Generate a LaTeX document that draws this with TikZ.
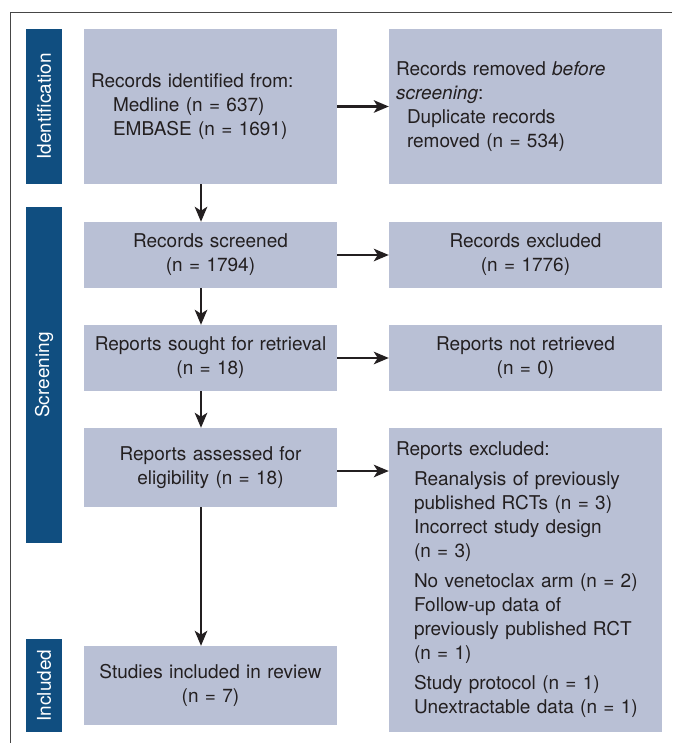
\documentclass[tikz,border=0pt]{standalone}
\usepackage{fontspec}
\setmainfont{TeX Gyre Heros}
\usetikzlibrary{arrows.meta}
\definecolor{boxfill}{RGB}{185,192,213}
\definecolor{barblue}{RGB}{16,78,128}
\definecolor{txt}{RGB}{35,31,32}
\definecolor{framec}{RGB}{70,70,70}
\begin{document}
\begin{tikzpicture}[x=1pt,y=-1pt,
 box/.style={fill=boxfill, draw=none, inner xsep=7pt, inner ysep=0pt, text=txt, font=\fontsize{19}{24}\selectfont},
 lbox/.style={box, align=left},
 cbox/.style={box, align=center},
 bar/.style={fill=barblue, text=white, rotate=90, inner sep=0pt, font=\fontsize{19}{24}\selectfont, minimum height=36pt},
 arr/.style={draw=txt, line width=2.4pt, -{Stealth[length=15pt,width=12.5pt,inset=4pt]}}]
\useasboundingbox (0,0) rectangle (672,743);
\draw[framec, line width=1pt] (672,13) -- (10,13) -- (10,743);

% phase bars
\node[bar, minimum width=155pt] (idbar) at (44,106.5) {Identification};
\node[bar, minimum width=336pt] (scbar) at (44,375) {Screening};
\node[bar, minimum width=93pt] (inbar) at (44,685.5) {Included};

% boxes
\node[lbox, text width=239pt, minimum height=155pt] (b1) at (210.5,106.5)
 {Records identified from:\\\hspace*{22pt}Medline (n = 637)\\\hspace*{22pt}EMBASE (n = 1691)};
\node[lbox, text width=259pt, minimum height=155pt] (b2) at (525.5,106.5)
 {Records removed \textit{before}\\\textit{screening}:\\\hspace*{11pt}Duplicate records\\\hspace*{11pt}removed (n = 534)};
\node[cbox, text width=239pt, minimum height=66pt] (b3) at (210.5,255)
 {Records screened\\(n = 1794)};
\node[cbox, text width=259pt, minimum height=66pt] (b4) at (525.5,255)
 {Records excluded\\(n = 1776)};
\node[cbox, inner xsep=2pt, text width=249pt, minimum height=66pt] (b5) at (210.5,358)
 {Reports sought for retrieval\\(n = 18)};
\node[cbox, text width=259pt, minimum height=66pt] (b6) at (525.5,358)
 {Reports not retrieved\\(n = 0)};
\node[cbox, text width=239pt, minimum height=79pt] (b7) at (210.5,467.5)
 {Reports assessed for\\eligibility (n = 18)};
\node[lbox, text width=259pt, minimum height=304pt] (b8) at (525.5,580)
 {Reports excluded:\\[6pt]
  \hspace*{18pt}Reanalysis of previously\\
  \hspace*{18pt}published RCTs (n = 3)\\
  \hspace*{18pt}Incorrect study design\\
  \hspace*{18pt}(n = 3)\\[6pt]
  \hspace*{18pt}No venetoclax arm (n = 2)\\
  \hspace*{18pt}Follow-up data of\\
  \hspace*{18pt}previously published RCT\\
  \hspace*{18pt}(n = 1)\\[6pt]
  \hspace*{18pt}Study protocol (n = 1)\\
  \hspace*{18pt}Unextractable data (n = 1)};
\node[cbox, text width=239pt, minimum height=79pt] (b9) at (210.5,685.5)
 {Studies included in review\\(n = 7)};

% connectors
\draw[arr] ([xshift=-9.5pt]b1.south) -- ([xshift=-9.5pt]b3.north);
\draw[arr] ([xshift=-9.5pt]b3.south) -- ([xshift=-9.5pt]b5.north);
\draw[arr] ([xshift=-9.5pt]b5.south) -- ([xshift=-9.5pt]b7.north);
\draw[arr] ([xshift=-9.5pt]b7.south) -- ([xshift=-9.5pt]b9.north);
\draw[arr] (b1.east) -- (b2.west);
\draw[arr] (b3.east) -- (b4.west);
\draw[arr] (b5.east) -- (b6.west);
\draw[arr] ([yshift=-3.5pt]b7.east) -- ([yshift=-3.5pt]b7.east -| b8.west);
\end{tikzpicture}
\end{document}
